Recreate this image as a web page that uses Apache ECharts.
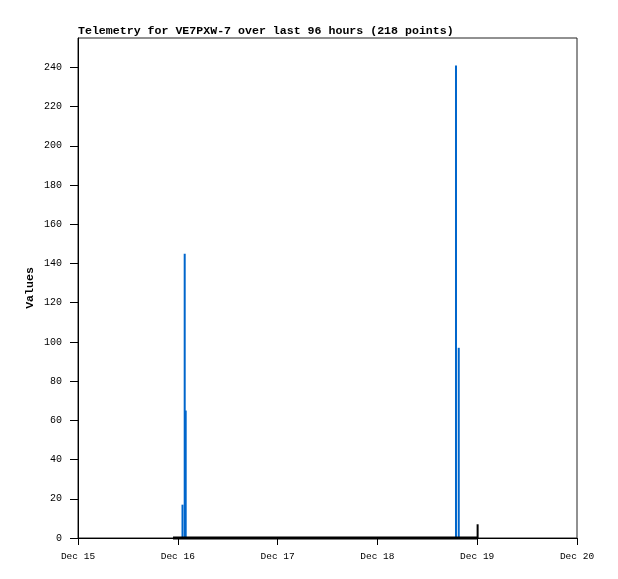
<!DOCTYPE html>
<html>
<head>
<meta charset="utf-8">
<script src="https://cdn.jsdelivr.net/npm/echarts@6/dist/echarts.min.js"></script>
<style>html,body{margin:0;padding:0;background:#fff}#c{width:618px;height:579px}</style>
</head>
<body>
<div id="c"></div>
<script>
// hours since Dec 15 00:00
const xTickLabels = ['Dec 15', 'Dec 16', 'Dec 17', 'Dec 18', 'Dec 19', 'Dec 20'];
const xTickValues = [0, 24, 48, 72, 96, 120];
const yTickValues = [0, 20, 40, 60, 80, 100, 120, 140, 160, 180, 200, 220, 240];

const blueTimes = [25.13, 25.66, 25.90, 90.90, 91.56];
const blueValues = [17, 145, 65, 241, 97];

const blackTimes = [22.85, 96.0, 96.1];
const blackValues = [0, 0, 7];

const chart = echarts.init(document.getElementById('c'), null, {renderer: 'canvas'});

function impulse(color, width) {
  return function (params, api) {
    const x = api.value(0), v = api.value(1);
    const p0 = api.coord([x, 0]);
    const p1 = api.coord([x, v]);
    return {type: 'line', shape: {x1: p0[0], y1: p0[1], x2: p1[0], y2: p1[1]},
            style: {stroke: color, lineWidth: width}};
  };
}

const blueData = blueTimes.map((t, i) => [t, blueValues[i]]);
const blackData = blackTimes.map((t, i) => [t, blackValues[i]]);
const blackBase = blackData.filter(d => d[1] === 0);
const blackSpikes = blackData.filter(d => d[1] !== 0);

chart.setOption({
  animation: false,
  backgroundColor: '#fff',
  title: {
    text: 'Telemetry for VE7PXW-7 over last 96 hours (218 points)',
    left: 73, top: 20,
    textStyle: {fontFamily: 'Liberation Mono', fontSize: 11.6, fontWeight: 'bold', color: '#000'}
  },
  grid: {left: 78, right: 41, top: 38, bottom: 41, show: true, borderColor: '#222', borderWidth: 1, backgroundColor: 'transparent'},
  xAxis: {
    type: 'value', min: 0, max: 120, interval: 24,
    axisLine: {show: true, onZero: false, lineStyle: {color: '#000', width: 1}},
    axisTick: {show: true, length: 7, inside: false, customValues: xTickValues, lineStyle: {color: '#000'}},
    splitLine: {show: false},
    axisLabel: {
      customValues: xTickValues,
      margin: 13, color: '#000', fontFamily: 'Liberation Mono', fontSize: 9.5,
      formatter: v => xTickLabels[xTickValues.indexOf(v)] || ''
    }
  },
  yAxis: {
    type: 'value', min: 0, max: 255,
    name: 'Values', nameLocation: 'middle', nameGap: 42, nameRotate: 90, nameMoveOverlap: false,
    nameTextStyle: {fontFamily: 'Liberation Mono', fontSize: 11.6, fontWeight: 'bold', color: '#000'},
    axisLine: {show: true, lineStyle: {color: '#000', width: 1}},
    axisTick: {show: true, length: 8, customValues: yTickValues, lineStyle: {color: '#000'}},
    splitLine: {show: false},
    axisLabel: {
      customValues: yTickValues,
      margin: 16, color: '#000', fontFamily: 'Liberation Mono', fontSize: 10
    }
  },
  series: [
    {
      type: 'custom', data: blueData, renderItem: impulse('#0066cc', 2), z: 3
    },
    {
      type: 'line', data: blackBase, symbol: 'none', z: 4, clip: false,
      lineStyle: {color: '#000', width: 3}
    },
    {
      type: 'custom', data: blackSpikes, renderItem: impulse('#000', 2), z: 5
    }
  ]
});
</script>
</body>
</html>
